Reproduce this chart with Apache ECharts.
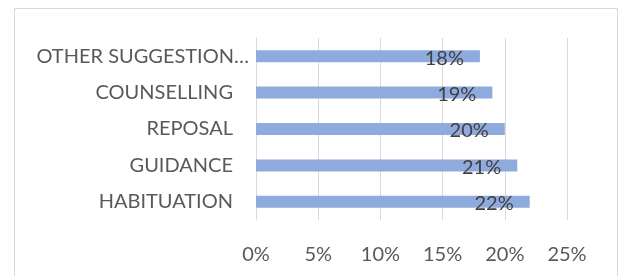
<!DOCTYPE html>
<html>
<head>
<meta charset="utf-8">
<script src="https://cdn.jsdelivr.net/npm/echarts@6/dist/echarts.min.js"></script>
<style>
html,body{margin:0;padding:0;background:#fff;}
#chart{width:622px;height:276px;}
</style>
</head>
<body>
<div id="chart"></div>
<script>
var categories = ["HABITUATION", "GUIDANCE", "REPOSAL", "COUNSELLING", "OTHER SUGGESTION…"];
var values = [22, 21, 20, 19, 18];
var tickMin = 0, tickMax = 25, tickStep = 5;

var chart = echarts.init(document.getElementById('chart'), null, {renderer: 'canvas'});
var font = 'Lato, "Liberation Sans", Arial, sans-serif';
var catData = categories.map(function (c) {
  var truncated = c.charAt(c.length - 1) === '…';
  return truncated ? {value: c, textStyle: {padding: [0, 0, 0, 0]}} : c;
});
chart.setOption({
  animation: false,
  backgroundColor: '#ffffff',
  graphic: [{
    type: 'rect',
    shape: {x: 14.5, y: 8.5, width: 603, height: 320},
    style: {fill: 'none', stroke: '#d9d9d9', lineWidth: 1},
    silent: true
  }],
  grid: {left: 256, top: 38, width: 311, height: 182, containLabel: false},
  xAxis: {
    type: 'value',
    min: tickMin, max: tickMax, interval: tickStep,
    axisLine: {show: false},
    axisTick: {show: false},
    splitLine: {show: true, lineStyle: {color: '#d9d9d9', width: 1}},
    axisLabel: {
      formatter: '{value}%',
      color: '#595959',
      fontFamily: font,
      fontSize: 20,
      margin: 25
    }
  },
  yAxis: {
    type: 'category',
    data: catData,
    axisLine: {show: true, lineStyle: {color: '#d9d9d9', width: 1}},
    axisTick: {show: false},
    axisLabel: {
      color: '#595959',
      fontFamily: font,
      fontSize: 20,
      margin: 7,
      padding: [0, 16, 0, 0]
    }
  },
  series: [{
    type: 'bar',
    data: values,
    barWidth: 12,
    itemStyle: {color: '#8faadc'},
    label: {
      show: true,
      position: 'insideRight',
      distance: 16,
      offset: [0, 2],
      formatter: '{c}%',
      color: '#404040',
      fontFamily: font,
      fontSize: 20
    }
  }]
});
</script>
</body>
</html>
